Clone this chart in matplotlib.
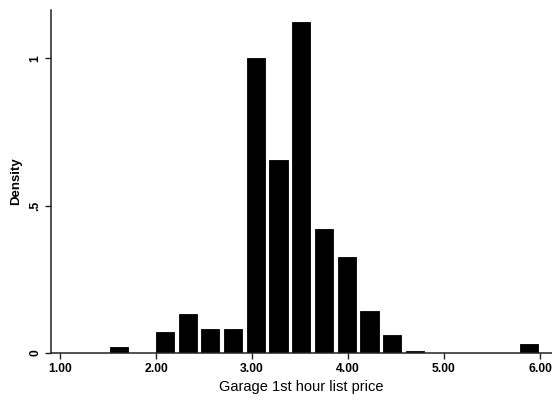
import numpy as np
import matplotlib
matplotlib.use("Agg")
from matplotlib import pyplot as plt

# histogram of garage first-hour list prices (density scale)
BIN_START = 1.5
BIN_WIDTH = 4.5 / 19
density = [0.02, 0.0, 0.071, 0.132, 0.081, 0.081, 1.0, 0.654, 1.122, 0.42,
           0.325, 0.142, 0.061, 0.006, 0.0, 0.0, 0.0, 0.0, 0.03]

x_ticks = [1, 2, 3, 4, 5, 6]
x_labels = ["1.00", "2.00", "3.00", "4.00", "5.00", "6.00"]
y_ticks = [0, 0.5, 1]
y_labels = ["0", ".5", "1"]

plt.rcParams['font.family'] = ['Liberation Sans', 'DejaVu Sans']

fig = plt.figure(figsize=(5.52, 4.01), dpi=100)
ax = fig.add_axes([0.0924, 0.1197, 0.9076, 0.855])

lefts = BIN_START + BIN_WIDTH * np.arange(len(density))
ax.bar(lefts + BIN_WIDTH * 0.1, density, width=BIN_WIDTH * 0.8, align='edge',
       color='black', edgecolor='black', linewidth=0.6)

ax.set_xlim(0.906, 6.125)
ax.set_ylim(0, 1.163)

ax.spines['top'].set_visible(False)
ax.spines['right'].set_visible(False)
for s in ('left', 'bottom'):
    ax.spines[s].set_linewidth(1.1)
    ax.spines[s].set_color('#222222')

ax.set_xticks(x_ticks)
ax.set_xticklabels(x_labels, fontsize=8.7, fontweight='bold')
ax.set_yticks(y_ticks)
ax.set_yticklabels(y_labels, fontsize=8.7, fontweight='bold', rotation=90, va='center')
ax.tick_params(axis='both', direction='out', length=4, width=1, color='#222222', pad=3)

ax.set_xlabel("Garage 1st hour list price", fontsize=10.5, labelpad=4)
ax.set_ylabel("Density", fontsize=9.5, fontweight='bold', labelpad=5)

fig.savefig("out.png", dpi=100)
